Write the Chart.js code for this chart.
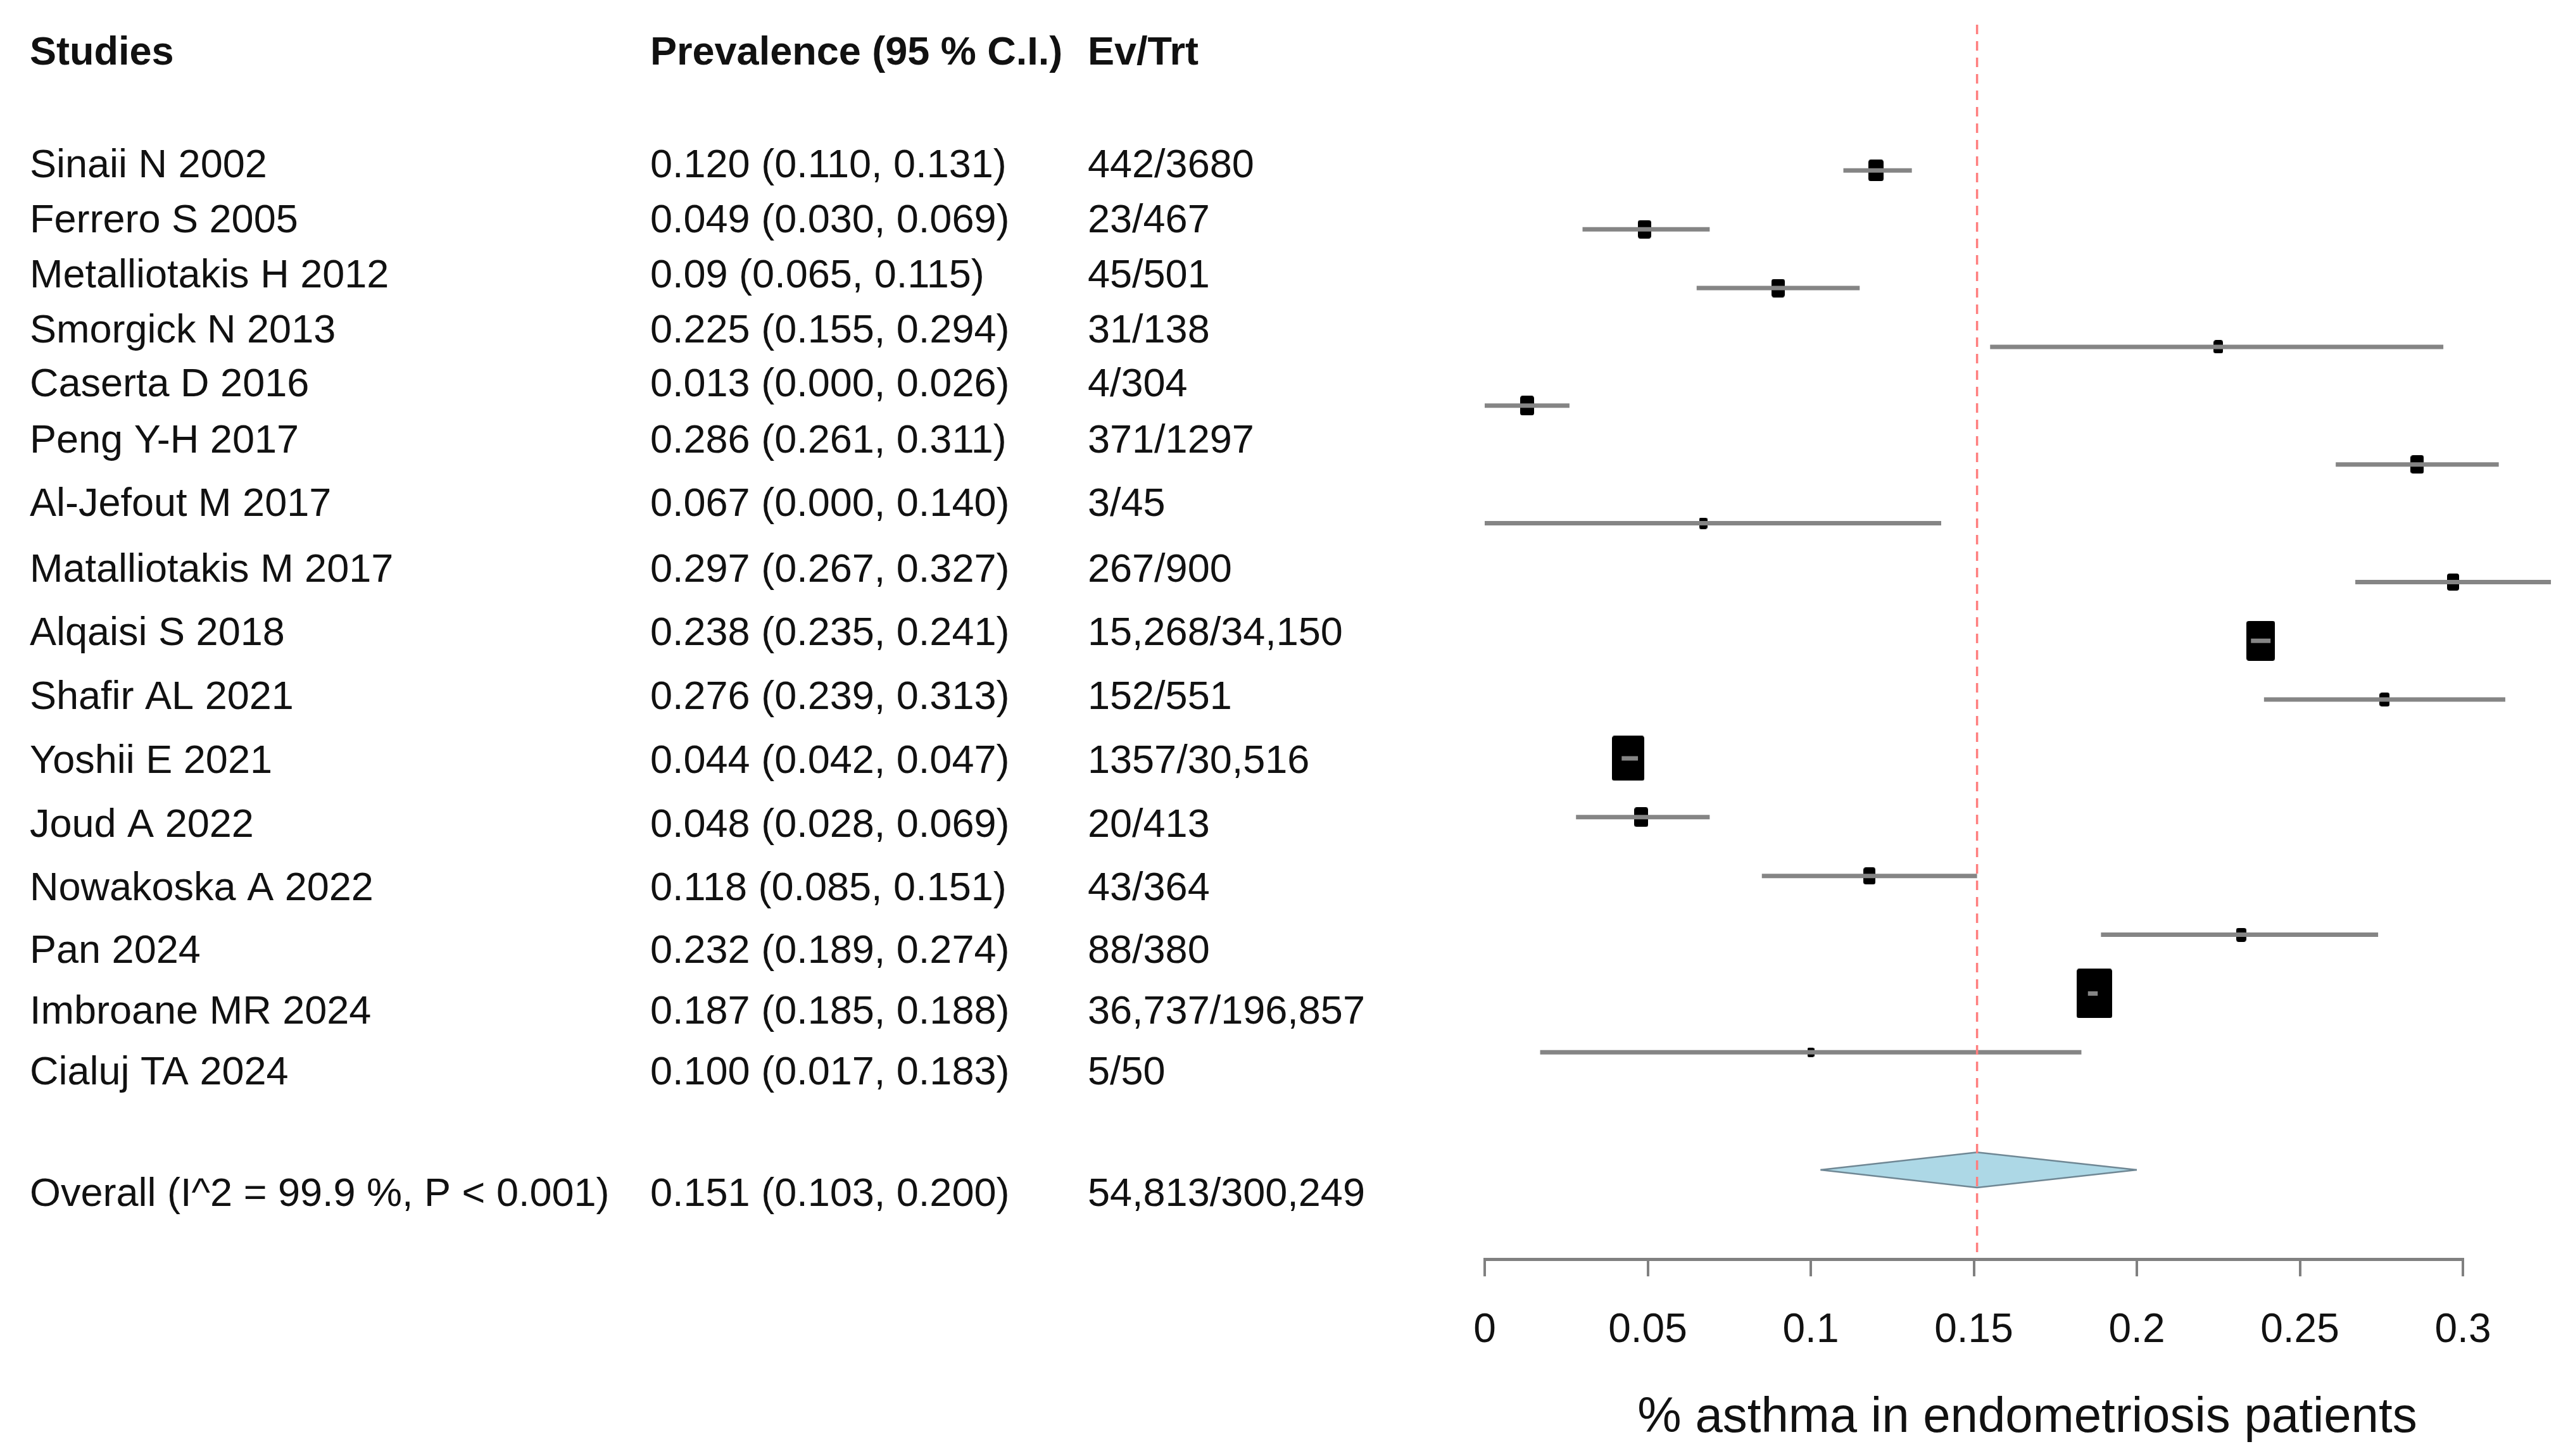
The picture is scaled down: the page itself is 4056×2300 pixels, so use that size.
<!DOCTYPE html>
<html>
<head>
<meta charset="utf-8">
<script src="https://cdn.jsdelivr.net/npm/chart.js@4/dist/chart.umd.min.js"></script>
<style>
html,body{margin:0;padding:0;background:#ffffff;}
#wrap{width:4056px;height:2300px;}
</style>
</head>
<body>
<div id="wrap"><canvas id="c" width="4056" height="2300"></canvas></div>
<script>
// ---------------- data ----------------
const studies = ["Sinaii N 2002","Ferrero S 2005","Metalliotakis H 2012","Smorgick N 2013","Caserta D 2016","Peng Y-H 2017","Al-Jefout M 2017","Matalliotakis M 2017","Alqaisi S 2018","Shafir AL 2021","Yoshii E 2021","Joud A 2022","Nowakoska A 2022","Pan 2024","Imbroane MR 2024","Cialuj TA 2024"];
const prevalence = [0.120,0.049,0.09,0.225,0.013,0.286,0.067,0.297,0.238,0.276,0.044,0.048,0.118,0.232,0.187,0.100];
const lowerCI = [0.110,0.030,0.065,0.155,0.000,0.261,0.000,0.267,0.235,0.239,0.042,0.028,0.085,0.189,0.185,0.017];
const upperCI = [0.131,0.069,0.115,0.294,0.026,0.311,0.140,0.327,0.241,0.313,0.047,0.069,0.151,0.274,0.188,0.183];
const prevalenceLabels = ["0.120 (0.110, 0.131)","0.049 (0.030, 0.069)","0.09 (0.065, 0.115)","0.225 (0.155, 0.294)","0.013 (0.000, 0.026)","0.286 (0.261, 0.311)","0.067 (0.000, 0.140)","0.297 (0.267, 0.327)","0.238 (0.235, 0.241)","0.276 (0.239, 0.313)","0.044 (0.042, 0.047)","0.048 (0.028, 0.069)","0.118 (0.085, 0.151)","0.232 (0.189, 0.274)","0.187 (0.185, 0.188)","0.100 (0.017, 0.183)"];
const eventsTrt = ["442/3680","23/467","45/501","31/138","4/304","371/1297","3/45","267/900","15,268/34,150","152/551","1357/30,516","20/413","43/364","88/380","36,737/196,857","5/50"];
const weights = [24,21,21,15,22,21,13,19,45,16,51,22,19,16,56,11]; // relative box sizes (study weight)
const overallLabel = "Overall (I^2 = 99.9 %, P < 0.001)";
const overallPrev = 0.151, overallLower = 0.103, overallUpper = 0.200;
const overallPrevLabel = "0.151 (0.103, 0.200)";
const overallEvents = "54,813/300,249";
const headers = ["Studies","Prevalence (95 % C.I.)","Ev/Trt"];
const xTicks = [0,0.05,0.1,0.15,0.2,0.25,0.3];
const xTickLabels = ["0","0.05","0.1","0.15","0.2","0.25","0.3"];
const xTitle = "% asthma in endometriosis patients";

// ---------------- layout (pixels) ----------------
const colX = [47,1027,1718];
const headerY = 85;
const rowTextY = [263,350,437,524,609,698,798,902,1002,1103,1204,1305,1405,1504,1600,1696];
const overallTextY = 1888;
const overallRow = 17;
const FONT = '"Liberation Sans", Arial, sans-serif';

// box markers as canvases
function makeBox(w){
  const h = Math.round(w*1.4);
  const cv = document.createElement('canvas');
  cv.width = Math.round(w); cv.height = h;
  const g = cv.getContext('2d');
  g.fillStyle = '#000';
  const r = Math.min(4, w/4);
  g.beginPath();
  if (g.roundRect) g.roundRect(0,0,cv.width,h,r); else g.rect(0,0,cv.width,h);
  g.fill();
  return cv;
}
const boxes = weights.map(w => makeBox(w));

const datasets = [];
// red dashed reference line at overall estimate
datasets.push({
  type:'line', data:[{x:overallPrev,y:-2.48},{x:overallPrev,y:18.52}],
  borderColor:'#ff7f7f', borderWidth:3.5, borderDash:[15,11], pointRadius:0, clip:false, order:1
});
// CI lines
studies.forEach((s,i)=>{
  datasets.push({
    type:'line', data:[{x:lowerCI[i],y:i},{x:upperCI[i],y:i}],
    borderColor:'#858585', borderWidth:7, pointRadius:0, clip:false, order:2, borderCapStyle:'butt'
  });
});
// boxes
datasets.push({
  type:'scatter', data: prevalence.map((v,i)=>({x:v,y:i})),
  pointStyle:(ctx)=>boxes[ctx.dataIndex], pointRadius:5, clip:false, order:3
});
// diamond (two halves filled to the row baseline)
datasets.push({
  type:'line', data:[{x:overallLower,y:overallRow},{x:overallPrev,y:overallRow-0.3},{x:overallUpper,y:overallRow}],
  borderColor:'#6f8794', borderWidth:2.5, backgroundColor:'#add8e6', fill:{value:overallRow}, pointRadius:0, tension:0, order:4
});
datasets.push({
  type:'line', data:[{x:overallLower,y:overallRow},{x:overallPrev,y:overallRow+0.3},{x:overallUpper,y:overallRow}],
  borderColor:'#6f8794', borderWidth:2.5, backgroundColor:'#add8e6', fill:{value:overallRow}, pointRadius:0, tension:0, order:4
});

const textPlugin = {
  id:'forestText',
  afterDraw(chart){
    const ctx = chart.ctx;
    ctx.save();
    ctx.fillStyle = '#111111';
    ctx.textBaseline = 'middle';
    ctx.textAlign = 'left';
    ctx.font = 'bold 63px ' + FONT;
    headers.forEach((h,j)=>ctx.fillText(h, colX[j], headerY));
    ctx.font = '63px ' + FONT;
    studies.forEach((s,i)=>{
      ctx.fillText(s, colX[0], rowTextY[i]);
      ctx.fillText(prevalenceLabels[i], colX[1], rowTextY[i]);
      ctx.fillText(eventsTrt[i], colX[2], rowTextY[i]);
    });
    ctx.fillText(overallLabel, colX[0], overallTextY);
    ctx.fillText(overallPrevLabel, colX[1], overallTextY);
    ctx.fillText(overallEvents, colX[2], overallTextY);
    // axis title
    ctx.textAlign = 'center';
    ctx.font = '78px ' + FONT;
    ctx.fillText(xTitle, 3202, 2240);
    ctx.restore();
  }
};

new Chart(document.getElementById('c'), {
  type:'scatter',
  data:{datasets},
  options:{
    responsive:false, animation:false, devicePixelRatio:1,
    layout:{padding:{left:2345,right:166,top:39,bottom:111}},
    plugins:{legend:{display:false}, tooltip:{enabled:false}},
    scales:{
      x:{
        type:'linear', min:0, max:0.3,
        afterBuildTicks:(scale)=>{ scale.ticks = xTicks.map(v=>({value:v})); },
        ticks:{callback:(v,i)=>xTickLabels[i], font:{size:64, family:FONT}, color:'#111111', padding:48, maxRotation:0, autoSkip:false},
        grid:{display:true, drawOnChartArea:false, drawTicks:true, tickLength:27, color:'#808080', lineWidth:4},
        border:{display:true, color:'#808080', width:5}
      },
      y:{type:'linear', min:-2.48, max:18.52, reverse:true, display:false}
    }
  },
  plugins:[textPlugin]
});
</script>
</body>
</html>
